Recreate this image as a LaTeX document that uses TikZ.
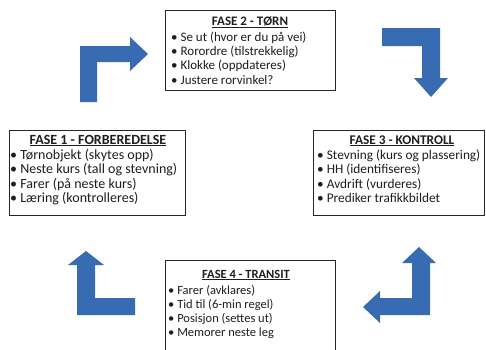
\documentclass[tikz,border=0pt]{standalone}
\usepackage{fontspec}
\setmainfont{Carlito}
\definecolor{arrowblue}{RGB}{56,108,178}
\definecolor{txt}{RGB}{30,30,30}
\begin{document}
\begin{tikzpicture}[x=1pt,y=-1pt,
  box/.style={draw=black!85,line width=1.3pt,fill=white,anchor=north west,inner sep=0},
  fs/.style={font=\fontsize{#1}{14}\selectfont},
  ttl/.style={text=txt,inner sep=0,anchor=base},
  itm/.style={text=txt,inner sep=0,anchor=base west},
  blk/.style={fill=arrowblue,draw=none}]
\useasboundingbox[fill=white] (0,0) rectangle (486,349);
% boxes
\node[box,minimum width=170pt,minimum height=80pt] (f2) at (165,10) {};
\node[box,minimum width=176pt,minimum height=85pt] (f1) at (9,130) {};
\node[box,minimum width=171pt,minimum height=85pt] (f3) at (313,130) {};
\node[box,minimum width=170pt,minimum height=95pt] (f4) at (165,260) {};
% FASE 2
\begin{scope}[every node/.append style={fs=13}]
\node[ttl] (f2h) at (250,25) {\bfseries\underline{FASE 2 - TØRN}};
\node[itm] (f2a) at (171,41)   {• Se ut (hvor er du på vei)};
\node[itm] (f2b) at (171,55.4) {• Rorordre (tilstrekkelig)};
\node[itm] (f2c) at (171,69.8) {• Klokke (oppdateres)};
\node[itm] (f2d) at (171,84.2) {• Justere rorvinkel?};
\end{scope}
% FASE 1
\begin{scope}[every node/.append style={fs=14}]
\node[ttl] (f1h) at (98,144) {\bfseries\underline{FASE 1 - FORBEREDELSE}};
\node[itm] (f1a) at (10,159)   {• Tørnobjekt (skytes opp)};
\node[itm] (f1b) at (10,173.5) {• Neste kurs (tall og stevning)};
\node[itm] (f1c) at (10,188)   {• Farer (på neste kurs)};
\node[itm] (f1d) at (10,202.5) {• Læring (kontrolleres)};
\end{scope}
% FASE 3
\begin{scope}[every node/.append style={fs=13.3}]
\node[ttl] (f3h) at (402,144) {\bfseries\underline{FASE 3 - KONTROLL}};
\node[itm] (f3a) at (317,159)   {• Stevning (kurs og plassering)};
\node[itm] (f3b) at (317,173.5) {• HH (identifiseres)};
\node[itm] (f3c) at (317,188)   {• Avdrift (vurderes)};
\node[itm] (f3d) at (317,202.5) {• Prediker trafikkbildet};
\end{scope}
% FASE 4
\begin{scope}[every node/.append style={fs=12.5}]
\node[ttl] (f4h) at (246,278) {\bfseries\underline{FASE 4 - TRANSIT}};
\node[itm] (f4a) at (168,294) {• Farer (avklares)};
\node[itm] (f4b) at (168,308) {• Tid til (6-min regel)};
\node[itm] (f4c) at (168,322) {• Posisjon (settes ut)};
\node[itm] (f4d) at (168,336) {• Memorer neste leg};
\end{scope}
% block arrows
\fill[blk] (80,102) -- (80,46) -- (130,46) -- (130,37) -- (148,54) -- (130,71) -- (130,62) -- (97,62) -- (97,102) -- cycle;
\fill[blk] (382,28) -- (440,28) -- (440,78) -- (448,78) -- (431,97) -- (414,78) -- (422,78) -- (422,46) -- (382,46) -- cycle;
\fill[blk] (77,315) -- (77,265) -- (68,265) -- (86,251) -- (104,265) -- (95,265) -- (95,298) -- (135,298) -- (135,315) -- cycle;
\fill[blk] (430,315) -- (430,263) -- (436,263) -- (419,247) -- (402,263) -- (412,263) -- (412,298) -- (380,298) -- (380,291) -- (363,307) -- (380,323) -- (380,315) -- cycle;
\end{tikzpicture}
\end{document}
